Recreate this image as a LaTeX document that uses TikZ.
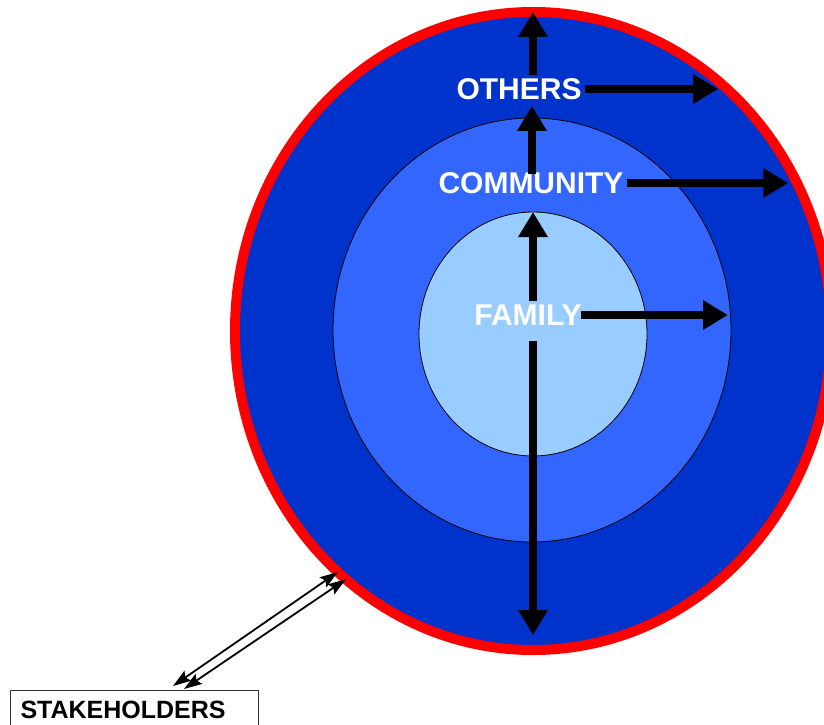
\documentclass[tikz,border=0pt]{standalone}
\usepackage{fontspec}
\setmainfont{Liberation Sans}
\usepackage{xcolor}
\usetikzlibrary{positioning,calc,shapes.geometric,arrows.meta}
\definecolor{ringdark}{HTML}{0033CC}
\definecolor{ringmid}{HTML}{3366FF}
\definecolor{ringlight}{HTML}{99CCFF}
\definecolor{ringred}{HTML}{FF0000}

\begin{document}
\begin{tikzpicture}[x=1pt,y=-1pt,
				ring/.style={ellipse, inner sep=0pt, outer sep=0pt},
				lbl/.style={text=white, font=\bfseries\fontsize{30}{36}\selectfont, inner sep=3pt},
				flow/.style={line width=7.5pt, -{Triangle[width=28pt,length=25pt]}},
				link/.style={line width=1.8pt, {Stealth[length=18pt,width=12pt,inset=3pt]}-{Stealth[length=18pt,width=12pt,inset=3pt]}},
				stakebox/.style={
					draw=black!80, line width=1pt,
					font=\bfseries\fontsize{25}{30}\selectfont,
					text width=228pt, align=left,
					inner xsep=10pt, inner ysep=10pt,
					text height=18pt, text depth=0pt,
				}
				]
				\useasboundingbox (0,0) rectangle (824,725);
				
				% the three rings
				\node[ring, fill=ringdark, draw=ringred, line width=10pt,
				minimum width=596pt, minimum height=638pt] (outerring) at (533,331) {};
				\node[ring, fill=ringmid, draw, line width=0.8pt,
				minimum width=398pt, minimum height=424pt] (midring) at (532,330) {};
				\node[ring, fill=ringlight, draw, line width=0.8pt,
				minimum width=228pt, minimum height=244pt] (innerring) at (533,334) {};
				
				\node[lbl] (others) at (519,89) {OTHERS};
				\node[lbl] (community) at (531,183) {COMMUNITY};
				\node[lbl] (family) at (528,315) {FAMILY};
				
				\draw[flow] (outerring.north |- others.north) -- (outerring.north);
				\draw[flow, shorten >=6pt] (others.east) -- (others.east -| outerring.52);
				\draw[flow, shorten <=-5pt, shorten >=3pt] (midring.north |- community.north) -- (midring.north |- others.south);
				\draw[flow, shorten >=7pt] (community.east) -- (community.east -| outerring.30);
				\draw[flow] (innerring.north |- family.north) -- (innerring.north);
				\draw[flow, shorten <=12pt, shorten >=15pt] (innerring.center |- family.south) -- (outerring.south);
				\draw[flow, shorten <=-4pt, shorten >=3pt] (family.east) -- (family.east -| midring.east);
				
				\node[stakebox, anchor=north west] (stake) at (10,690) {STAKEHOLDERS};
				\coordinate (sa) at (173,686);
				\coordinate (sb) at (184,689);
				\draw[link] (sa) -- (outerring.231);
				\draw[link] (sb) -- (outerring.233);
			\end{tikzpicture}
\end{document}
